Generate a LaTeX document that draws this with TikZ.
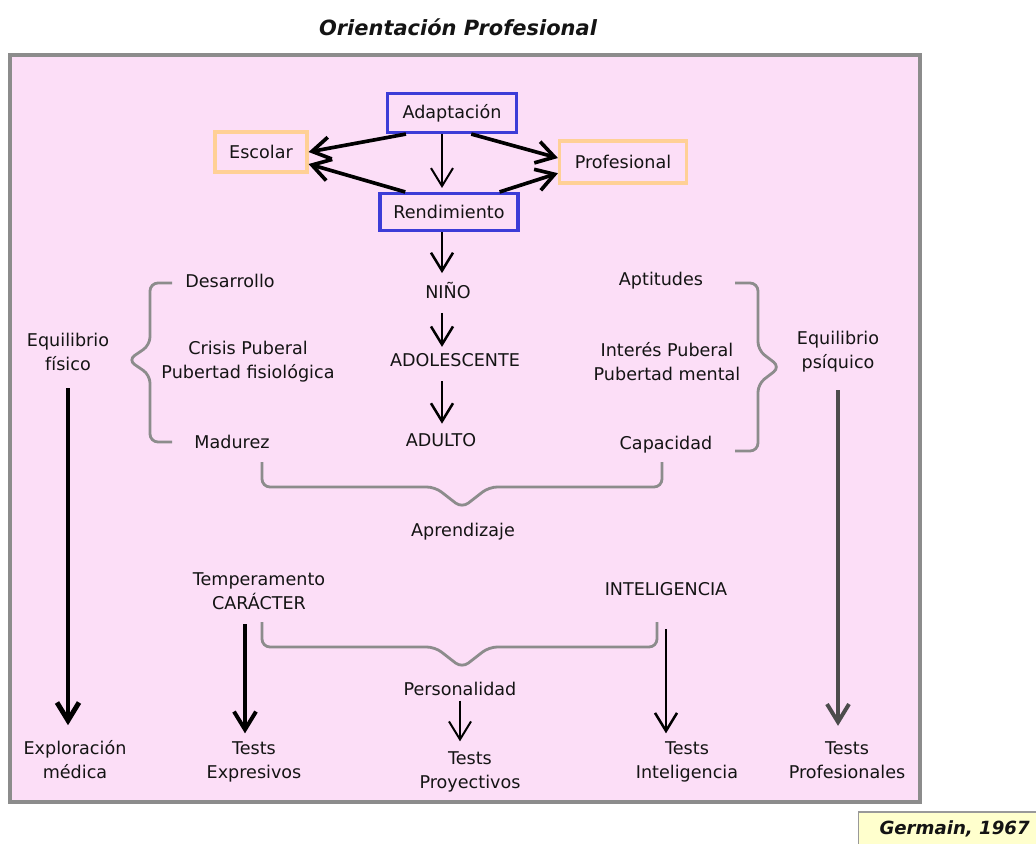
\documentclass[tikz,border=0pt]{standalone}
\usepackage{fontspec}
\setmainfont{DejaVu Sans}
\usetikzlibrary{arrows.meta}
\definecolor{pinkbg}{RGB}{252,222,247}
\definecolor{boxblue}{RGB}{60,60,215}
\definecolor{boxpeach}{RGB}{255,208,150}
\definecolor{bracegray}{RGB}{140,140,140}
\definecolor{notebg}{RGB}{255,255,205}
\tikzstyle{box}=[rectangle,draw,line width=2.2pt,inner sep=2pt]
\tikzstyle{lbl}=[align=center,inner sep=1pt]
\tikzstyle{arr}=[-{Straight Barb[length=0.45cm,width=0.55cm]}]
\tikzstyle{brace}=[draw=bracegray,line width=2pt,rounded corners=0.2cm]

\begin{document}
\begin{tikzpicture}[x=0.025cm,y=-0.025cm,font=\fontsize{12.5}{17}\selectfont,text=black!92]
  \useasboundingbox (0,0) rectangle (1036,843);
  \node[font=\fontsize{14.9}{17}\selectfont\bfseries\itshape] (title) at (458,27) {Orientación Profesional};
  \draw[draw=black!45,fill=pinkbg,line width=2.8pt] (10,55) rectangle (920,802);
  \coordinate (axis) at (442,0);
  % top boxes
  \node[box,draw=boxblue,minimum width=3.225cm,minimum height=0.975cm] (adapt) at (452,113) {Adaptación};
  \node[box,draw=boxblue,minimum width=3.45cm,minimum height=0.925cm] (rend) at (449,212) {Rendimiento};
  \node[box,draw=boxpeach,minimum width=2.3cm,minimum height=1cm] (escolar) at (261,152) {Escolar};
  \node[box,draw=boxpeach,minimum width=3.175cm,minimum height=1.05cm] (prof) at (623,162) {Profesional};
  \draw[arr,line width=2.6pt] ([xshift=0.5cm]adapt.south west) -- (escolar.east);
  \draw[arr,line width=2.6pt] ([xshift=0.67cm]rend.north west) -- ([yshift=-0.3cm]escolar.east);
  \draw[arr,line width=2.6pt] ([xshift=-1.17cm]adapt.south east) -- ([yshift=0.1cm]prof.west);
  \draw[arr,line width=2.6pt] ([xshift=-0.5cm]rend.north east) -- ([yshift=-0.28cm]prof.west);
  \draw[arr,line width=1.4pt,shorten >=0.1cm] (adapt.south -| axis) -- (rend.north -| axis);
  % middle column
  \node[lbl] (nino) at (448,291) {NIÑO};
  \node[lbl] (adol) at (455,360) {ADOLESCENTE};
  \node[lbl] (adulto) at (441,440) {ADULTO};
  \draw[arr,line width=1.8pt,shorten >=0.2cm] (rend.south -| axis) -- (nino.north -| axis);
  \draw[arr,line width=1.8pt,shorten <=0.3cm,shorten >=0.12cm] (nino.south -| axis) -- (adol.north -| axis);
  \draw[arr,line width=1.8pt,shorten <=0.32cm,shorten >=0.2cm] (adol.south -| axis) -- (adulto.north -| axis);
  % left and right columns
  \node[lbl] (desarrollo) at (230,281) {Desarrollo};
  \node[lbl] (crisis) at (248,362) {Crisis Puberal\\Pubertad fisiológica};
  \node[lbl] (madurez) at (232,442) {Madurez};
  \node[lbl] (eqf) at (68,352) {Equilibrio\\físico};
  \node[lbl] (aptitudes) at (661,281) {Aptitudes};
  \node[lbl] (interes) at (667,362) {Interés Puberal\\Pubertad mental};
  \node[lbl] (capacidad) at (666,445) {Capacidad};
  \node[lbl] (eqp) at (838,352) {Equilibrio\\psíquico};
  \draw[brace] (172,283) -- (150,283) -- (150,345) -- (128,360) -- (150,375) -- (150,442) -- (172,442);
  \draw[brace] (735,283) -- (758,283) -- (758,350) -- (780,367) -- (758,384) -- (758,451) -- (735,451);
  % lower part
  \node[lbl] (aprend) at (463,532) {Aprendizaje};
  \draw[brace] (262,462) -- (262,487) -- (435,487) -- (462,508) -- (489,487) -- (662,487) -- (662,462);
  \node[lbl] (temper) at (259,591) {Temperamento\\CARÁCTER};
  \node[lbl] (intel) at (666,589) {INTELIGENCIA};
  \node[lbl] (personal) at (460,689) {Personalidad};
  \draw[brace] (262,622) -- (262,647) -- (435,647) -- (462,668) -- (489,647) -- (657,647) -- (657,622);
  \node[lbl] (explor) at (75,760) {Exploración\\médica};
  \node[lbl] (texpr) at (254,762) {Tests\\Expresivos};
  \node[lbl] (tproy) at (470,772) {Tests\\Proyectivos};
  \node[lbl] (tintel) at (687,762) {Tests\\Inteligencia};
  \node[lbl] (tprof) at (847,760) {Tests\\Profesionales};
  \draw[arr,line width=3.5pt,shorten <=0.4cm,shorten >=0.35cm] (eqf.south) -- (eqf.south |- explor.north);
  \draw[arr,line width=2.8pt,draw=black!70,shorten <=0.4cm,shorten >=0.35cm] (eqp.south) -- (eqp.south |- tprof.north);
  \draw[arr,line width=2.8pt,shorten <=0.33cm,shorten >=0.17cm] ([xshift=-0.35cm]temper.south) -- ([xshift=-0.35cm]temper.south |- texpr.north);
  \draw[arr,line width=1.8pt,shorten <=0.8cm,shorten >=0.17cm] (intel.south) -- (intel.south |- tintel.north);
  \draw[arr,line width=1.4pt,shorten <=0.08cm,shorten >=0.22cm] (personal.south) -- (personal.south |- tproy.north);
  % source note
  \node[draw=black!40,fill=notebg,line width=1pt,anchor=west,inner xsep=0.52cm,minimum height=0.85cm,font=\fontsize{12.9}{14}\selectfont\bfseries\itshape] (germain) at (858,829) {Germain,\ 1967};
\end{tikzpicture}
\end{document}
